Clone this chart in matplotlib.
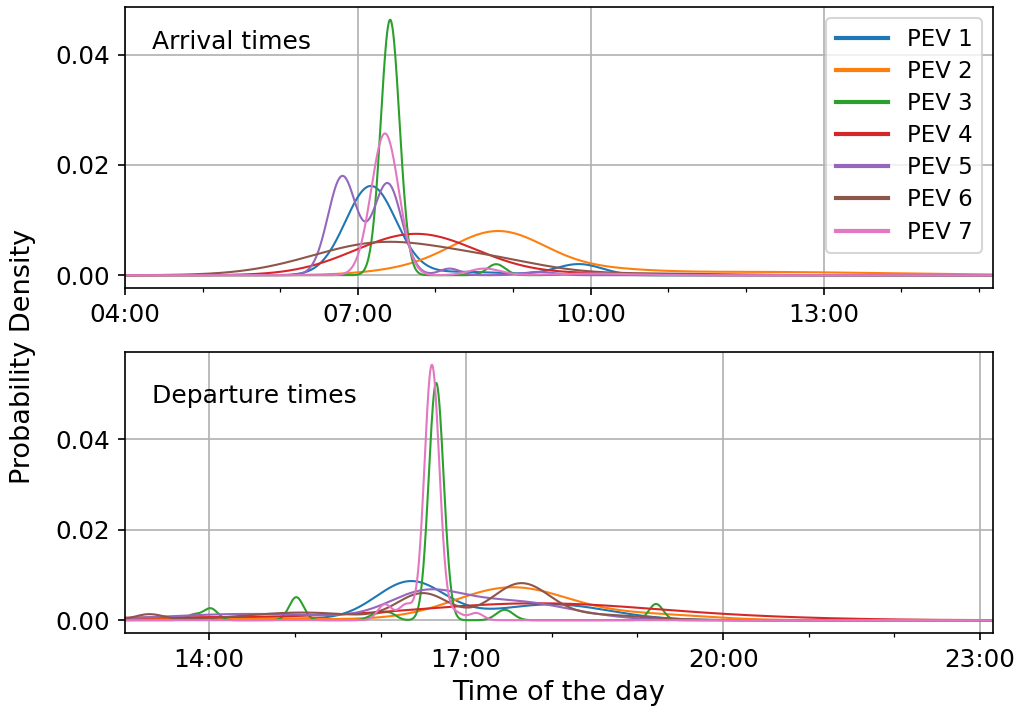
import numpy as np
import matplotlib
matplotlib.use("Agg")
import matplotlib.pyplot as plt
from matplotlib.ticker import FixedLocator, FuncFormatter

# Smoothed density components per vehicle: (centre [min after midnight], spread [min], peak density)
arrival_pev1 = [(430, 19.5, 0.0161), (500, 35, 0.0006), (591, 18, 0.0020)]
arrival_pev2 = [(460, 35, 0.0008), (528, 36, 0.0076), (600, 40, 0.0008), (720, 110, 0.0006)]
arrival_pev3 = [(445, 7.2, 0.0463), (527, 7, 0.0020), (600, 15, 0.0004)]
arrival_pev4 = [(465, 47, 0.0075), (600, 40, 0.0003)]
arrival_pev5 = [(408, 11, 0.0179), (443, 11, 0.0166), (491, 8, 0.0012), (560, 12, 0.0006)]
arrival_pev6 = [(440, 55, 0.0059), (530, 40, 0.0017), (640, 60, 0.0003)]
arrival_pev7 = [(441, 10.6, 0.0257), (518, 12, 0.0012), (600, 30, 0.0003)]

departure_pev1 = [(850, 80, 0.0004), (981, 24, 0.0084), (1080, 40, 0.0035)]
departure_pev2 = [(850, 100, 0.0003), (1052, 40, 0.0072), (1150, 40, 0.0012)]
departure_pev3 = [(829, 5, 0.0012), (841, 5, 0.0026), (901, 5, 0.0051), (956, 5, 0.0012),
                  (966, 5, 0.0016), (999, 5.2, 0.0525), (1047, 6, 0.0023), (1153, 5, 0.0036)]
departure_pev4 = [(820, 100, 0.0006), (1070, 85, 0.0037), (1230, 70, 0.0003)]
departure_pev5 = [(870, 60, 0.0014), (990, 25, 0.0050), (1050, 42, 0.0042)]
departure_pev6 = [(798, 10, 0.0013), (905, 40, 0.0017), (990, 18, 0.0058),
                  (1058, 20, 0.0078), (1110, 35, 0.0012)]
departure_pev7 = [(963, 5, 0.0035), (978, 5, 0.0035), (996, 5.2, 0.0565),
                  (1012, 5, 0.0018), (1027, 5, 0.0016)]

labels = ["PEV 1", "PEV 2", "PEV 3", "PEV 4", "PEV 5", "PEV 6", "PEV 7"]
arrivals = [arrival_pev1, arrival_pev2, arrival_pev3, arrival_pev4,
            arrival_pev5, arrival_pev6, arrival_pev7]
departures = [departure_pev1, departure_pev2, departure_pev3, departure_pev4,
              departure_pev5, departure_pev6, departure_pev7]

arrival_ticks = ["04:00", "07:00", "10:00", "13:00"]
departure_ticks = ["14:00", "17:00", "20:00", "23:00"]
arrival_range = ("04:00", "15:11")
departure_range = ("13:01", "23:09")


def to_min(s):
    h, m = s.split(":")
    return int(h) * 60 + int(m)


def density(t, comps):
    out = np.zeros_like(t)
    for c, s, h in comps:
        out += h * np.exp(-0.5 * ((t - c) / s) ** 2)
    return out


def clock(v, pos=None):
    v = int(round(v))
    return f"{v // 60:02d}:{v % 60:02d}"


fig = plt.figure(figsize=(6.8, 713 / 150), dpi=150)
ax1 = fig.add_axes([0.1225, 0.5961, 0.8510, 0.3941])
ax2 = fig.add_axes([0.1225, 0.1122, 0.8510, 0.3941])

colors = plt.rcParams["axes.prop_cycle"].by_key()["color"]

for ax, series, ticks, rng, title, ty in [
    (ax1, arrivals, arrival_ticks, arrival_range, "Arrival times", 0.875),
    (ax2, departures, departure_ticks, departure_range, "Departure times", 0.843),
]:
    lo, hi = to_min(rng[0]), to_min(rng[1])
    t = np.linspace(lo, hi, 2000)
    for i, comps in enumerate(series):
        ax.plot(t, density(t, comps), color=colors[i], lw=1.0, label=labels[i])
    ax.set_xlim(lo, hi)
    major = [to_min(s) for s in ticks]
    ax.xaxis.set_major_locator(FixedLocator(major))
    ax.xaxis.set_minor_locator(FixedLocator(np.arange((lo // 60) * 60, hi + 1, 60)))
    ax.xaxis.set_major_formatter(FuncFormatter(clock))
    ax.set_yticks([0.0, 0.02, 0.04])
    ax.yaxis.set_major_formatter(FuncFormatter(lambda v, p: f"{v:.2f}"))
    ax.tick_params(labelsize=11.8)
    ax.grid(True)
    ax.text(0.031, ty, title, transform=ax.transAxes, fontsize=12, va="center")

leg = ax1.legend(loc="upper right", fontsize=11, handlelength=2.3, labelspacing=0.4)
for line in leg.get_lines():
    line.set_linewidth(2.0)

ax2.set_xlabel("Time of the day", fontsize=13)
fig.text(0.023, 0.5, "Probability Density", rotation=90, va="center", ha="center", fontsize=13)

fig.savefig("out.png", dpi=150)
